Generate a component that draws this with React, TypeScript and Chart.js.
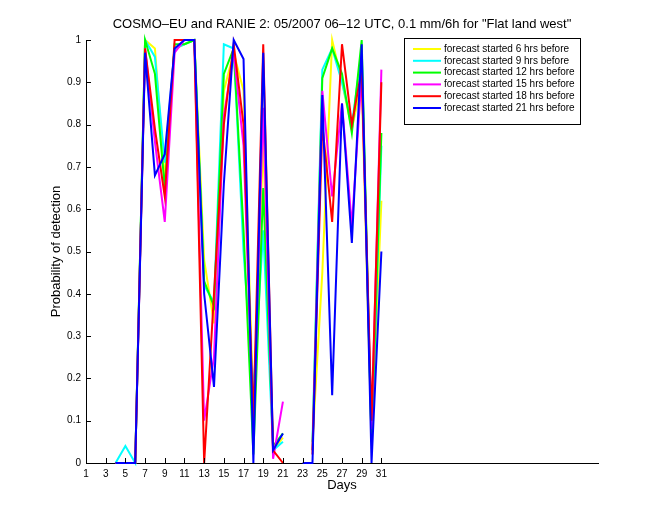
import React, { useEffect, useRef } from "react";
import { Chart, registerables } from "chart.js";

Chart.register(...registerables);

const titleText = 'COSMO\u2013EU and RANIE 2: 05/2007 06\u201312 UTC, 0.1 mm/6h for "Flat land west"';
const xTitle = "Days";
const yTitle = "Probability of detection";

const days = [1, 2, 3, 4, 5, 6, 7, 8, 9, 10, 11, 12, 13, 14, 15, 16, 17, 18, 19, 20, 21, 22, 23, 24, 25, 26, 27, 28, 29, 30, 31];

const n = null;
// values per day 1..31
const fc6 = [n, n, n, 0, 0, 0, 1.0, 0.98, 0.67, 0.98, 0.99, 1.0, 0.48, 0.33, 0.88, 0.97, 0.88, 0.12, 0.76, 0.03, 0.06, n, n, 0.05, 0.45, 1.0, 0.9, 0.79, 0.9, 0.05, 0.62];
const fc9 = [n, n, n, 0, 0.04, 0, 1.0, 0.96, 0.71, 0.98, 0.99, 1.0, 0.42, 0.38, 0.99, 0.98, 0.5, 0.17, 0.55, 0.03, 0.05, n, n, 0.05, 0.93, 0.98, 0.9, 0.8, 0.97, 0.05, 0.75];
const fc12 = [n, n, n, 0, 0, 0, 1.0, 0.92, 0.65, 0.99, 0.99, 1.0, 0.43, 0.37, 0.92, 0.98, 0.55, 0.02, 0.65, 0.04, 0.07, n, n, 0.03, 0.91, 0.98, 0.92, 0.78, 1.0, 0.05, 0.78];
const fc15 = [n, n, n, 0, 0, 0, 0.98, 0.76, 0.57, 0.97, 1.0, 1.0, 0.1, 0.25, 0.82, 0.97, 0.75, 0.08, 0.84, 0.01, 0.145, n, n, 0.03, 0.88, 0.63, 0.85, 0.56, 0.92, 0.08, 0.93];
const fc18 = [n, n, n, 0, 0, 0, 0.98, 0.79, 0.63, 1.0, 1.0, 1.0, 0.0, 0.4, 0.8, 0.99, 0.8, 0.1, 0.99, 0.03, 0.0, n, n, 0.02, 0.8, 0.57, 0.99, 0.8, 0.93, 0.1, 0.9];
const fc21 = [n, n, n, 0, 0, 0, 0.97, 0.68, 0.73, 0.98, 1.0, 1.0, 0.4, 0.18, 0.66, 1.0, 0.955, 0.0, 0.97, 0.03, 0.07, n, 0, 0, 0.87, 0.16, 0.85, 0.52, 0.99, 0.0, 0.5];

const seriesLabels = [
  "forecast started 6 hrs before",
  "forecast started 9 hrs before",
  "forecast started 12 hrs before",
  "forecast started 15 hrs before",
  "forecast started 18 hrs before",
  "forecast started 21 hrs before",
];
const seriesValues = [fc6, fc9, fc12, fc15, fc18, fc21];
const seriesColors = ["#ffff00", "#00ffff", "#00ff00", "#ff00ff", "#ff0000", "#0000ff"];

const xTicks = [1, 3, 5, 7, 9, 11, 13, 15, 17, 19, 21, 23, 25, 27, 29, 31];
const yTicks = [0, 0.1, 0.2, 0.3, 0.4, 0.5, 0.6, 0.7, 0.8, 0.9, 1];
const xMin = 1;
const xMax = 53;

const FONT = "'Liberation Sans', Arial, Helvetica, sans-serif";

const titlePlugin = {
  id: "matlabTitle",
  afterDraw(chart: any) {
    const { ctx, chartArea } = chart;
    ctx.save();
    ctx.fillStyle = "#000";
    ctx.font = `13px ${FONT}`;
    ctx.textAlign = "center";
    ctx.textBaseline = "middle";
    ctx.fillText(titleText, (chartArea.left + chartArea.right) / 2, 24);
    ctx.restore();
  },
};

const ticksPlugin = {
  id: "inwardTicks",
  afterDraw(chart: any) {
    const { ctx, chartArea, scales } = chart;
    ctx.save();
    ctx.strokeStyle = "#000";
    ctx.lineWidth = 1;
    ctx.beginPath();
    for (const v of yTicks) {
      const y = Math.round(scales.y.getPixelForValue(v)) + 0.5;
      ctx.moveTo(chartArea.left, y);
      ctx.lineTo(chartArea.left + 5, y);
    }
    for (const v of xTicks) {
      const x = Math.round(scales.x.getPixelForValue(v)) + 0.5;
      ctx.moveTo(x, chartArea.bottom);
      ctx.lineTo(x, chartArea.bottom - 5);
    }
    ctx.stroke();
    ctx.restore();
  },
};

const legendPlugin = {
  id: "matlabLegend",
  afterDraw(chart: any) {
    const { ctx, chartArea } = chart;
    const right = chartArea.right - 18;
    const left = right - 176;
    const top = chartArea.top - 2;
    const height = 86;
    ctx.save();
    ctx.fillStyle = "#fff";
    ctx.fillRect(left, top, right - left, height);
    ctx.strokeStyle = "#000";
    ctx.lineWidth = 1;
    ctx.strokeRect(left + 0.5, top + 0.5, right - left, height);
    ctx.font = `10px ${FONT}`;
    ctx.textBaseline = "middle";
    ctx.textAlign = "left";
    seriesLabels.forEach((label, i) => {
      const y = top + 11 + i * 11.8;
      ctx.strokeStyle = seriesColors[i];
      ctx.lineWidth = 2;
      ctx.beginPath();
      ctx.moveTo(left + 9, y);
      ctx.lineTo(left + 37, y);
      ctx.stroke();
      ctx.fillStyle = "#000";
      ctx.fillText(label, left + 40, y);
    });
    ctx.restore();
  },
};

export default function App() {
  const ref = useRef<HTMLCanvasElement>(null);

  useEffect(() => {
    const datasets = seriesLabels.map((label, i) => ({
      label,
      data: days.map((d, k) => ({ x: d, y: seriesValues[i][k] })),
      borderColor: seriesColors[i],
      backgroundColor: seriesColors[i],
      borderWidth: 2,
      pointRadius: 0,
      tension: 0,
      spanGaps: false,
      clip: false as any,
      order: seriesLabels.length - 1 - i,
    }));

    const chart = new Chart(ref.current as HTMLCanvasElement, {
      type: "line",
      data: { datasets },
      options: {
        responsive: false,
        animation: false,
        events: [],
        layout: { padding: { top: 40, right: 62, left: 0, bottom: 0 } },
        plugins: {
          legend: { display: false },
          tooltip: { enabled: false },
          title: { display: false },
        },
        scales: {
          x: {
            type: "linear",
            min: xMin,
            max: xMax,
            afterBuildTicks: (scale: any) => {
              scale.ticks = xTicks.map((v) => ({ value: v }));
            },
            afterFit: (scale: any) => {
              scale.height = 57;
            },
            grid: { display: false, drawTicks: false },
            border: { display: true, color: "#000", width: 1 },
            ticks: {
              autoSkip: false,
              maxRotation: 0,
              padding: 5,
              color: "#000",
              font: { family: FONT, size: 10 },
              callback: (v: any) => String(v),
            },
            title: {
              display: true,
              text: xTitle,
              color: "#000",
              font: { family: FONT, size: 13 },
              padding: { top: 0, bottom: 27 },
            },
          },
          y: {
            type: "linear",
            min: 0,
            max: 1,
            afterBuildTicks: (scale: any) => {
              scale.ticks = yTicks.map((v) => ({ value: v }));
            },
            afterFit: (scale: any) => {
              scale.width = 86;
            },
            grid: { display: false, drawTicks: false },
            border: { display: true, color: "#000", width: 1 },
            ticks: {
              autoSkip: false,
              padding: 5,
              color: "#000",
              font: { family: FONT, size: 10 },
              callback: (v: any) => String(Math.round(Number(v) * 10) / 10),
            },
            title: {
              display: true,
              text: yTitle,
              color: "#000",
              font: { family: FONT, size: 13 },
              padding: { top: 49, bottom: 0 },
            },
          },
        },
      },
      plugins: [titlePlugin, ticksPlugin, legendPlugin],
    });
    return () => chart.destroy();
  }, []);

  return (
    <div style={{ position: "absolute", left: 0, top: 0, width: 660, height: 520, background: "#fff" }}>
      <canvas ref={ref} width={660} height={520} style={{ width: 660, height: 520, display: "block" }} />
    </div>
  );
}
